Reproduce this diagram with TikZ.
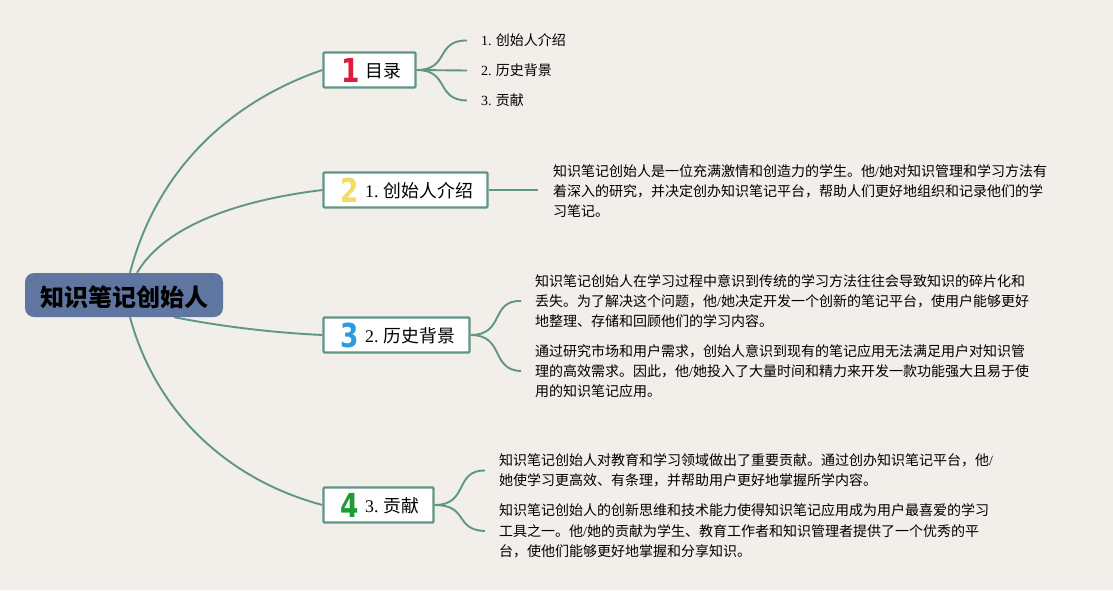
\documentclass[tikz,border=0pt]{standalone}
\usepackage{fontspec}
\setmainfont{Liberation Serif}
\newfontfamily\cjk{Noto Sans CJK SC}
\newfontfamily\numfont{DejaVu Sans}
\usetikzlibrary{backgrounds}
\definecolor{paper}{HTML}{F2EEE9}
\definecolor{branch}{HTML}{5F9686}
\definecolor{rootfill}{HTML}{5F77A0}
\definecolor{numred}{HTML}{DC1E3C}
\definecolor{numyellow}{HTML}{F2DC64}
\definecolor{numblue}{HTML}{2E9BDC}
\definecolor{numgreen}{HTML}{1E9B32}
\newcommand{\lat}[1]{{\rmfamily #1}}
\begin{document}
\begin{tikzpicture}[x=1pt,y=-1pt]
\tikzstyle{root}=[rectangle,rounded corners=9pt,fill=rootfill,minimum width=198pt,minimum height=44pt,text height=25pt,text depth=3pt,font=\cjk\bfseries\fontsize{24}{28}\selectfont]
\tikzstyle{topic}=[rectangle,rounded corners=1pt,draw=branch,line width=2.2pt,fill=white,minimum height=35pt,inner sep=0pt]
\tikzstyle{label}=[anchor=west,inner sep=0pt,font=\cjk\fontsize{17.8}{22}\selectfont]
\tikzstyle{digit}=[inner sep=0pt,xscale=0.8,font=\numfont\bfseries\fontsize{33}{33}\selectfont]
\tikzstyle{item}=[anchor=west,inner xsep=14pt,inner ysep=0pt,font=\cjk\fontsize{14}{20.3}\selectfont,align=left]
\tikzstyle{link}=[draw=branch,line width=1.9pt]
\useasboundingbox (0,0) rectangle (1113,590);

% Racine
\node[root] (R) at (124,295) {知识笔记创始人};

% Sommaire
\node[topic,minimum width=92pt] (A) at (369.5,70) {};
\node[digit,numred] (A1) at (351,70) {1};
\node[label] (A2) at (365,71) {目录};
\node[item] (Aa) at (467,40.5) {\lat{1.} 创始人介绍};
\node[item] (Ab) at (467,70.5) {\lat{2.} 历史背景};
\node[item] (Ac) at (467,100.5) {\lat{3.} 贡献};
 \draw[link] (A.east) .. controls (450,70) and (435,40) .. (Aa.west);
 \draw[link] (A.east) -- (Ab.west);
 \draw[link] (A.east) .. controls (450,70) and (435,100) .. (Ac.west);

% Fondateur
\node[topic,minimum width=164pt] (B) at (405.5,190) {};
\node[digit,numyellow] (B1) at (350,190) {2};
\node[label] (B2) at (365,191) {\lat{1.} 创始人介绍};
\node[item,inner xsep=15pt] (Ba) at (538,191) {知识笔记创始人是一位充满激情和创造力的学生。他\lat{/}她对知识管理和学习方法有\\着深入的研究，并决定创办知识笔记平台，帮助人们更好地组织和记录他们的学\\习笔记。};
 \draw[link] (B.east) -- (Ba.west|-B.east);

% Histoire
\node[topic,minimum width=146pt] (C) at (396.5,335) {};
\node[digit,numblue] (C1) at (350,335) {3};
\node[label] (C2) at (365,336) {\lat{2.} 历史背景};
\node[item] (Ca) at (521,301) {知识笔记创始人在学习过程中意识到传统的学习方法往往会导致知识的碎片化和\\丢失。为了解决这个问题，他\lat{/}她决定开发一个创新的笔记平台，使用户能够更好\\地整理、存储和回顾他们的学习内容。};
\node[item] (Cb) at (521,371) {通过研究市场和用户需求，创始人意识到现有的笔记应用无法满足用户对知识管\\理的高效需求。因此，他\lat{/}她投入了大量时间和精力来开发一款功能强大且易于使\\用的知识笔记应用。};
 \draw[link] (C.east) .. controls (505,335) and (490,300) .. (Ca.west);
 \draw[link] (C.east) .. controls (505,335) and (490,370) .. (Cb.west);

% Contribution
\node[topic,minimum width=110pt] (D) at (378.5,505) {};
\node[digit,numgreen] (D1) at (350,505) {4};
\node[label] (D2) at (365,506) {\lat{3.} 贡献};
\node[item] (Da) at (485,470.5) {知识笔记创始人对教育和学习领域做出了重要贡献。通过创办知识笔记平台，他\lat{/}\\她使学习更高效、有条理，并帮助用户更好地掌握所学内容。};
\node[item] (Db) at (485,531) {知识笔记创始人的创新思维和技术能力使得知识笔记应用成为用户最喜爱的学习\\工具之一。他\lat{/}她的贡献为学生、教育工作者和知识管理者提供了一个优秀的平\\台，使他们能够更好地掌握和分享知识。};
 \draw[link] (D.east) .. controls (469,505) and (454,470) .. (Da.west);
 \draw[link] (D.east) .. controls (469,505) and (454,530) .. (Db.west);

% Branches principales
\begin{scope}[on background layer]
 \fill[paper] (0,0) rectangle (1113,590);
 \draw[link] ([xshift=6pt]R.north) .. controls (158,165) and (235,100) .. (A.west);
 \draw[link] ([xshift=13pt]R.north) .. controls (165,225) and (240,200) .. (B.west);
 \draw[link] ([xshift=50pt]R.south) .. controls (230,328) and (280,333) .. (C.west);
 \draw[link] ([xshift=6pt]R.south) .. controls (158,420) and (236,482) .. (D.west);
\end{scope}

\end{tikzpicture}
\end{document}
